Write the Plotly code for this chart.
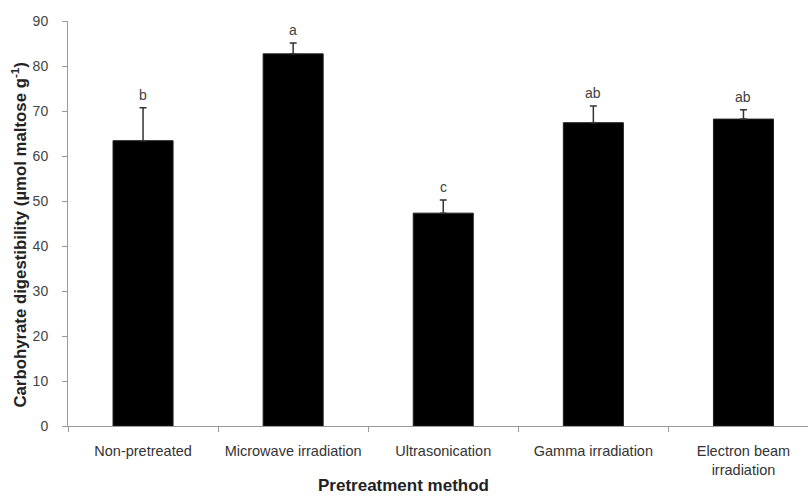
import plotly.graph_objects as go

categories = ["Non-pretreated", "Microwave irradiation", "Ultrasonication",
              "Gamma irradiation", "Electron beam<br>irradiation"]
values = [63.4, 82.7, 47.3, 67.4, 68.2]
errors = [7.3, 2.4, 2.9, 3.7, 2.1]
letters = ["b", "a", "c", "ab", "ab"]

FONT = "Liberation Sans, Arial, sans-serif"

fig = go.Figure()
fig.add_trace(go.Bar(
    x=categories, y=values,
    marker=dict(color="black", line=dict(color="#222", width=1)),
    width=0.40,
    error_y=dict(type="data", array=errors, arrayminus=[0]*len(errors),
                 symmetric=False, color="#333", thickness=1.5, width=3.5),
))

for c, v, e, l in zip(categories, values, errors, letters):
    fig.add_annotation(x=c, y=v + e, text=l, showarrow=False,
                       yanchor="bottom", yshift=3,
                       font=dict(family=FONT, size=14, color="#404040"))

# axis titles as paper annotations
fig.add_annotation(xref="paper", yref="paper", x=0.454, y=-0.146,
                   xanchor="center", yanchor="middle", showarrow=False,
                   text="<b>Pretreatment method</b>",
                   font=dict(family=FONT, size=17, color="#222"))
fig.add_annotation(xref="paper", yref="paper", x=-0.066, y=0.473,
                   xanchor="center", yanchor="middle", showarrow=False,
                   textangle=-90,
                   text="<b>Carbohyrate digestibility (µmol maltose g<sup>-1</sup>)</b>",
                   font=dict(family=FONT, size=16.8, color="#222"))

fig.update_layout(
    width=808, height=496,
    margin=dict(l=68, r=0, t=21, b=70),
    plot_bgcolor="white", paper_bgcolor="white",
    showlegend=False,
    font=dict(family=FONT, color="#333"),
)
fig.update_xaxes(
    type="category", automargin=False,
    range=[-0.5, 4.43],
    showline=True, linecolor="#999", linewidth=1,
    ticks="outside", tickson="boundaries", ticklen=5, tickcolor="#999",
    ticklabelstandoff=12,
    tickfont=dict(family=FONT, size=14.5, color="#333"),
    showgrid=False,
)
fig.update_yaxes(
    range=[0, 90], dtick=10, automargin=False,
    showline=True, linecolor="#999", linewidth=1,
    ticks="outside", ticklen=5, tickcolor="#999",
    ticklabelstandoff=11,
    tickfont=dict(family=FONT, size=14, color="#444"),
    showgrid=False, zeroline=False,
)

fig.write_html("out.html",
               config={"displayModeBar": False},
               post_script="document.body.style.margin='0';"
                           "document.body.style.overflow='hidden';")
